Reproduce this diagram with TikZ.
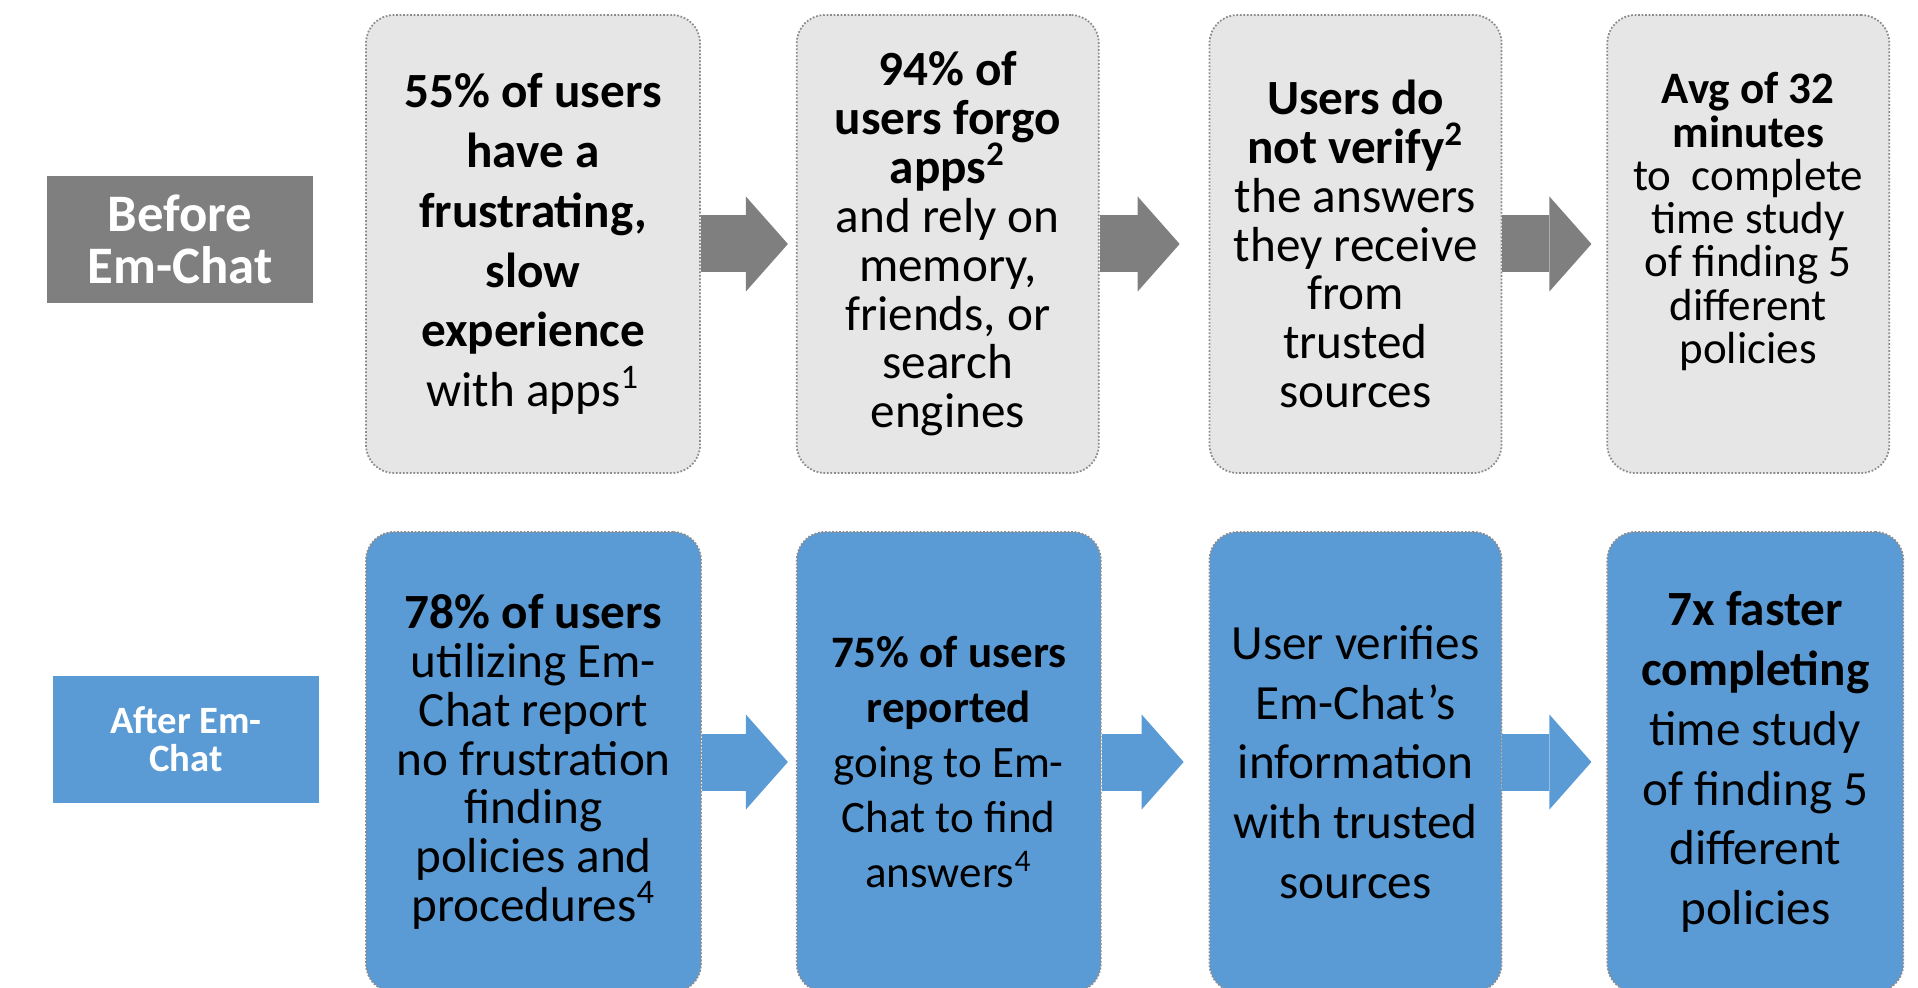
\documentclass[tikz,border=0pt]{standalone}
\usepackage{fontspec}
\setmainfont{Carlito}
\usepackage{tikz}
\usetikzlibrary{arrows.meta, positioning}

\definecolor{oldfill}{HTML}{E6E6E6}
\definecolor{arrowgray}{HTML}{7F7F7F}
\definecolor{dotgray}{HTML}{8C8C8C}
\definecolor{newblue}{HTML}{5B9BD5}

\newcommand{\boxfont}[2]{\fontsize{#1}{#2}\selectfont\lineskiplimit=-\maxdimen}

\begin{document}
\begin{tikzpicture}[
  node distance=1cm,
  oldbox/.style={rectangle, rounded corners=2.8mm, draw=dotgray, line width=0.5pt, dash pattern=on 0.5pt off 0.5pt, fill=oldfill, inner sep=0pt, minimum height=4.58cm, align=center},
  newbox/.style={rectangle, rounded corners=2.8mm, draw=dotgray, line width=0.5pt, dash pattern=on 0.5pt off 0.5pt, fill=newblue, inner sep=0pt, minimum height=4.60cm, align=center},
  tagbox/.style={rectangle, inner sep=0pt, minimum width=2.66cm, minimum height=1.27cm, text=white, align=center},
  oldarrow/.style={draw=arrowgray, line width=5.7mm, -{Triangle[length=4.2mm, width=9.5mm, line width=0pt]}},
  newarrow/.style={draw=newblue, line width=5.7mm, -{Triangle[length=4.2mm, width=9.5mm, line width=0pt]}}
]
\useasboundingbox (0,0) rectangle (19.18,9.87);

% Before Em-Chat
\node[tagbox, fill=arrowgray, font={\boxfont{15}{14.6}\bfseries}] (before) at (1.80,7.475) {Before\\Em-Chat};
\node[oldbox, minimum width=3.34cm, font={\boxfont{14}{17}}] (old1) at (5.33,7.43)
  {\textbf{55\% of users}\\\textbf{have a}\\\textbf{frustrating,}\\\textbf{slow}\\\textbf{experience}\\with apps\textsuperscript{1}};
\node[oldbox, minimum width=3.02cm, right=0.95cm of old1, font={\boxfont{14}{13.9}}] (old2)
  {\textbf{94\% of}\\\textbf{users forgo}\\\textbf{apps\textsuperscript{2}}\\and rely on\\memory,\\friends, or\\search\\engines};
\node[oldbox, minimum width=2.92cm, right=1.09cm of old2, font={\boxfont{14}{13.9}}] (old3)
  {\textbf{Users do}\\\textbf{not verify\textsuperscript{2}}\\the answers\\they receive\\from\\trusted\\sources};
\node[oldbox, minimum width=2.82cm, right=1.04cm of old3, font={\boxfont{12.8}{12.3}}] (old4)
  {\textbf{Avg of 32}\\\textbf{minutes}\\to\ \ complete\\time study\\of finding 5\\different\\policies\\[2.5pt]\mbox{}};

\draw[oldarrow, shorten >=0.8mm] (old1) -- (old2);
\draw[oldarrow, shorten >=2.9mm] (old2) -- (old3);
\draw[oldarrow, shorten >=1.5mm] (old3) -- (old4);

% After Em-Chat
\node[tagbox, fill=newblue, font={\boxfont{11}{10.8}\bfseries}] (after) at (1.86,2.475) {After Em-\\Chat};
\node[newbox, minimum width=3.35cm, font={\boxfont{14}{13.9}}] (new1) at (5.335,2.25)
  {\textbf{78\% of users}\\utilizing Em-\\Chat report\\no frustration\\finding\\policies and\\procedures\textsuperscript{4}};
\node[newbox, minimum width=3.04cm, right=0.94cm of new1, font={\boxfont{12.8}{15.6}}] (new2)
  {\textbf{75\% of users}\\\textbf{reported}\\going to Em-\\Chat to find\\answers\textsuperscript{4}};
\node[newbox, minimum width=2.92cm, right=1.07cm of new2, font={\boxfont{14}{17}}] (new3)
  {User verifies\\Em-Chat's\\information\\with trusted\\sources};
\node[newbox, minimum width=2.96cm, right=1.04cm of new3, font={\boxfont{14}{17}}] (new4)
  {\textbf{7x faster}\\\textbf{completing}\\time study\\of finding 5\\different\\policies};

\draw[newarrow, shorten >=0.8mm] (new1) -- (new2);
\draw[newarrow, shorten >=2.5mm] (new2) -- (new3);
\draw[newarrow, shorten >=1.5mm] (new3) -- (new4);

\end{tikzpicture}
\end{document}
